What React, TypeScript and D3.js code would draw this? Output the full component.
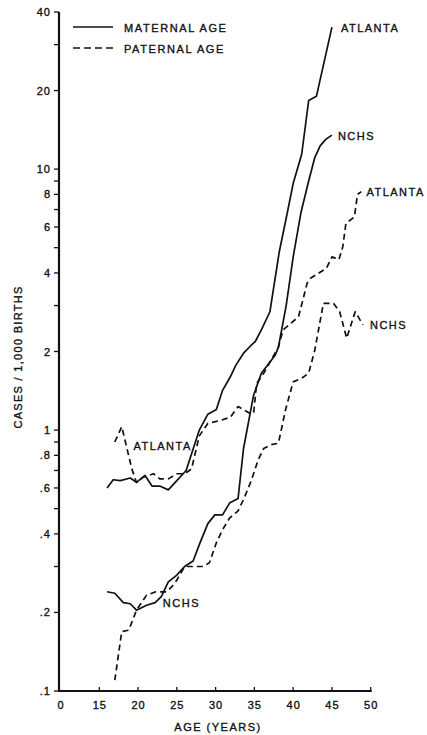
import React, { useEffect, useRef } from "react";
import * as d3 from "d3";

// [age in years, cases per 1,000 births]
const maternalAtlanta: [number, number][] = [
  [16, 0.6], [16.8, 0.645], [17.7, 0.64], [19, 0.655], [19.8, 0.63], [20.9, 0.67],
  [21.8, 0.61], [22.8, 0.61], [23.9, 0.59], [25, 0.64], [26.2, 0.7], [27.9, 1.0],
  [29, 1.15], [30.1, 1.2], [30.9, 1.42], [31.9, 1.6], [32.6, 1.77], [33.6, 1.97],
  [34.5, 2.1], [35.1, 2.18], [35.9, 2.42], [37, 2.84], [38.2, 4.8], [39.2, 6.7],
  [40, 8.8], [41.1, 11.4], [42, 18.3], [43, 19], [45, 35],
];

const maternalNchs: [number, number][] = [
  [16, 0.24], [17, 0.237], [18.1, 0.218], [19, 0.216], [19.8, 0.204], [21.1, 0.213],
  [22.2, 0.218], [23, 0.23], [23.9, 0.262], [25, 0.278], [26, 0.3], [27.1, 0.315],
  [27.9, 0.364], [29, 0.438], [29.9, 0.473], [30.9, 0.473], [31.8, 0.525], [32.9, 0.547],
  [33.6, 0.85], [34.9, 1.36], [35.9, 1.65], [37.7, 1.94], [38.1, 2.08], [39.1, 3.0],
  [40, 4.6], [41, 6.8], [42, 9.0], [42.8, 11.1], [43.5, 12.3], [44.2, 13.0], [45, 13.5],
];

const paternalAtlanta: [number, number][] = [
  [17, 0.9], [17.9, 1.03], [19.2, 0.71], [19.8, 0.63], [20.7, 0.66], [22, 0.68],
  [22.8, 0.65], [23.9, 0.65], [25, 0.68], [26, 0.68], [26.9, 0.71], [27.9, 0.95],
  [29, 1.06], [30.7, 1.09], [31.9, 1.12], [32.9, 1.23], [34.4, 1.16], [34.9, 1.16],
  [35.3, 1.51], [36.2, 1.65], [38.1, 2.08], [38.7, 2.42], [39.2, 2.49], [40.7, 2.72],
  [41.8, 3.65], [42.2, 3.81], [44.3, 4.17], [45, 4.61], [45.9, 4.5], [46.4, 5.04],
  [46.8, 6.19], [47.9, 6.56], [48.3, 8.0], [48.8, 8.2],
];

const paternalNchs: [number, number][] = [
  [17, 0.11], [17.9, 0.169], [18.8, 0.171], [19.8, 0.204], [21.1, 0.233], [22.3, 0.24],
  [23.7, 0.24], [24.3, 0.25], [25, 0.266], [26, 0.3], [27.1, 0.3], [28.4, 0.3],
  [29.2, 0.31], [30.1, 0.37], [30.9, 0.415], [31.8, 0.46], [32.9, 0.49], [33.7, 0.55],
  [34.6, 0.64], [35.5, 0.77], [36.2, 0.85], [37.2, 0.88], [38.1, 0.89], [39, 1.19],
  [40, 1.53], [41.1, 1.58], [42, 1.65], [42.8, 2.03], [43.9, 3.06], [45.2, 3.06],
  [46, 2.84], [46.9, 2.25], [48, 2.84], [49, 2.53],
];

const xTicks = [10, 15, 20, 25, 30, 35, 40, 45, 50];
const xTickLabels = ["0", "15", "20", "25", "30", "35", "40", "45", "50"];
const yTicks = [0.1, 0.2, 0.3, 0.4, 0.5, 0.6, 0.7, 0.8, 0.9, 1, 2, 3, 4, 5, 6, 7, 8, 9, 10, 20, 30, 40];
const yLabelTicks = [0.1, 0.2, 0.4, 0.6, 0.8, 1, 2, 4, 6, 8, 10, 20, 40];
const yTickLabels = [".1", ".2", ".4", ".6", ".8", "1", "2", "4", "6", "8", "10", "20", "40"];

const legendLabels = ["MATERNAL AGE", "PATERNAL AGE"];

// labels placed in data space (age, rate)
const insideLabels: { text: string; age: number; rate: number }[] = [
  { text: "ATLANTA", age: 19.4, rate: 0.84 },
  { text: "NCHS", age: 23.2, rate: 0.21 },
];

const FONT = "'Liberation Sans', Arial, sans-serif";

export default function App() {
  const ref = useRef<SVGSVGElement>(null);

  useEffect(() => {
    const svg = d3.select(ref.current);
    svg.selectAll("*").remove();

    const axisX = 59;
    const x = d3.scaleLinear().domain([10, 50]).range([60.5, 370.7]);
    const y = d3.scaleLog().domain([0.1, 40]).range([691, 12]);

    // pen-lettering look: slight stroke on all text
    const txt = (sel: any, size = 11, spacing = 1.5) =>
      sel.attr("font-family", FONT)
        .attr("font-size", size)
        .attr("letter-spacing", spacing)
        .attr("fill", "#111")
        .attr("stroke", "#111")
        .attr("stroke-width", 0.35);

    // axes
    svg.append("path")
      .attr("d", `M${axisX},${y(40)}V${y(0.1)}H${x(50) + 1}`)
      .attr("fill", "none")
      .attr("stroke", "#111")
      .attr("stroke-width", 2.2);

    svg.selectAll(".ytick")
      .data(yTicks)
      .join("line")
      .attr("x1", axisX - 5)
      .attr("x2", axisX)
      .attr("y1", d => y(d))
      .attr("y2", d => y(d))
      .attr("stroke", "#111")
      .attr("stroke-width", 1.3);

    txt(svg.selectAll(".ylab")
      .data(yLabelTicks)
      .join("text")
      .attr("x", 51)
      .attr("y", d => y(d) + 4)
      .attr("text-anchor", "end")
      .text((d, i) => yTickLabels[i]), 11, 1);

    svg.selectAll(".xtick")
      .data(xTicks.filter(d => d >= 15))
      .join("line")
      .attr("x1", d => x(d))
      .attr("x2", d => x(d))
      .attr("y1", y(0.1))
      .attr("y2", y(0.1) - 4)
      .attr("stroke", "#111")
      .attr("stroke-width", 1.3);

    txt(svg.selectAll(".xlab")
      .data(xTicks)
      .join("text")
      .attr("x", d => x(d) + 0.5)
      .attr("y", 709)
      .attr("text-anchor", "middle")
      .text((d, i) => xTickLabels[i]), 11, 1);

    txt(svg.append("text")
      .attr("x", 218)
      .attr("y", 731)
      .attr("text-anchor", "middle")
      .text("AGE (YEARS)"));

    txt(svg.append("text")
      .attr("transform", "translate(22,357) rotate(-90)")
      .attr("text-anchor", "middle")
      .text("CASES / 1,000 BIRTHS"), 11, 1.3);

    // series
    const line = d3.line<[number, number]>()
      .x(d => x(d[0]))
      .y(d => y(d[1]));

    const series = [
      { data: maternalAtlanta, dash: null, label: "ATLANTA", dx: 9 },
      { data: maternalNchs, dash: null, label: "NCHS", dx: 6 },
      { data: paternalAtlanta, dash: "6,4", label: "ATLANTA", dx: 5 },
      { data: paternalNchs, dash: "6,4", label: "NCHS", dx: 7 },
    ];

    series.forEach(s => {
      svg.append("path")
        .datum(s.data)
        .attr("d", line)
        .attr("fill", "none")
        .attr("stroke", "#111")
        .attr("stroke-width", 1.7)
        .attr("stroke-linejoin", "round")
        .attr("stroke-dasharray", s.dash);

      const last = s.data[s.data.length - 1];
      txt(svg.append("text")
        .attr("x", x(last[0]) + s.dx)
        .attr("y", y(last[1]) + 4.5)
        .text(s.label));
    });

    txt(svg.selectAll(".inlab")
      .data(insideLabels)
      .join("text")
      .attr("x", d => x(d.age))
      .attr("y", d => y(d.rate))
      .text(d => d.text));

    // legend
    const legend = svg.append("g");
    legendLabels.forEach((lab, i) => {
      legend.append("line")
        .attr("x1", 73)
        .attr("x2", 113)
        .attr("y1", 27 + i * 21)
        .attr("y2", 27 + i * 21)
        .attr("stroke", "#111")
        .attr("stroke-width", 1.7)
        .attr("stroke-dasharray", i === 0 ? null : "7,4");
      txt(legend.append("text")
        .attr("x", 124)
        .attr("y", 31.5 + i * 21)
        .text(lab), 11, 1.6);
    });
  }, []);

  return (
    <svg
      ref={ref}
      width={427}
      height={735}
      style={{ position: "absolute", left: 0, top: 0, background: "#fff" }}
    />
  );
}
